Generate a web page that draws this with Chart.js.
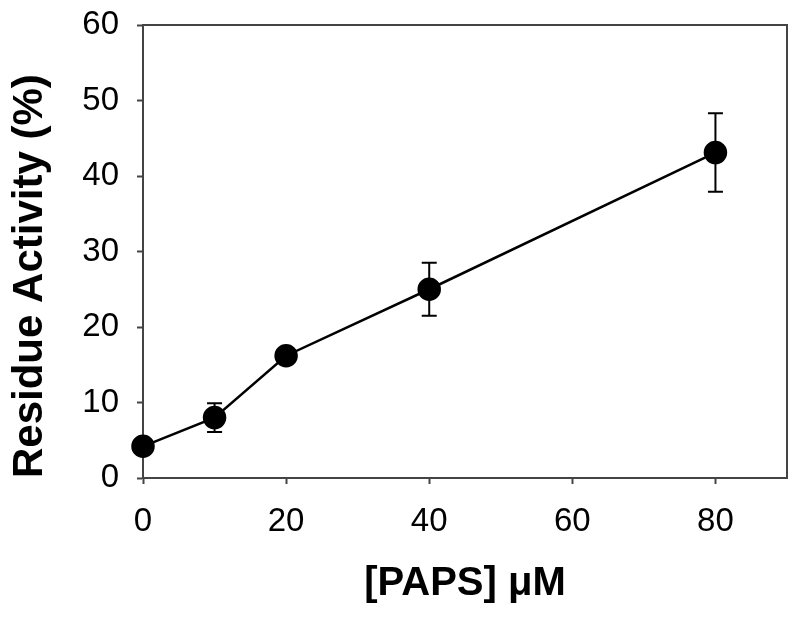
<!DOCTYPE html>
<html>
<head>
<meta charset="utf-8">
<title>Residue Activity vs PAPS</title>
<script src="https://cdn.jsdelivr.net/npm/chart.js@4/dist/chart.umd.min.js"></script>
<style>
    html, body { margin: 0; padding: 0; background: #ffffff; }
    #wrap { width: 800px; height: 617px; }
</style>
</head>
<body>
<div id="wrap"><canvas id="activity-chart" width="800" height="617"></canvas></div>
<script>
// Data
const papsConc = [0, 10, 20, 40, 80];          // [PAPS] in uM
const residueActivity = [4.2, 8.0, 16.2, 25.0, 43.1]; // %
const activityError = [0.5, 1.9, 0.9, 3.5, 5.2];
const xTicks = [0, 20, 40, 60, 80];
const yTicks = [0, 10, 20, 30, 40, 50, 60];

const AXIS_COLOR = '#444444';

/**
 * Draw vertical error bars with caps, using the chart scales
 */
const errorBarPlugin = {
    id: 'errorBars',
    beforeDatasetsDraw(chart) {
        const { ctx, scales: { x, y } } = chart;
        const cap = 7.5;
        ctx.save();
        ctx.strokeStyle = '#000000';
        ctx.lineWidth = 2;
        papsConc.forEach((xv, i) => {
            const px = x.getPixelForValue(xv);
            const top = y.getPixelForValue(residueActivity[i] + activityError[i]);
            const bot = y.getPixelForValue(residueActivity[i] - activityError[i]);
            ctx.beginPath();
            ctx.moveTo(px, top);
            ctx.lineTo(px, bot);
            ctx.moveTo(px - cap, top);
            ctx.lineTo(px + cap, top);
            ctx.moveTo(px - cap, bot);
            ctx.lineTo(px + cap, bot);
            ctx.stroke();
        });
        ctx.restore();
    }
};

/**
 * Close the box: top and right border of the plot area
 */
const framePlugin = {
    id: 'frame',
    afterDraw(chart) {
        const { ctx, chartArea: a } = chart;
        ctx.save();
        ctx.strokeStyle = AXIS_COLOR;
        ctx.lineWidth = 2;
        ctx.beginPath();
        ctx.moveTo(a.left, a.top);
        ctx.lineTo(a.right, a.top);
        ctx.lineTo(a.right, a.bottom);
        ctx.stroke();
        ctx.restore();
    }
};

function createActivityChart() {
    const canvas = document.getElementById('activity-chart');
    if (!canvas) return;

    new Chart(canvas, {
        type: 'line',
        data: {
            datasets: [{
                data: papsConc.map((v, i) => ({ x: v, y: residueActivity[i] })),
                borderColor: '#000000',
                borderWidth: 2.5,
                backgroundColor: '#000000',
                pointRadius: 10.5,
                pointHoverRadius: 10.5,
                pointBackgroundColor: '#000000',
                pointBorderColor: '#000000',
                tension: 0,
                clip: false
            }]
        },
        options: {
            responsive: false,
            animation: false,
            devicePixelRatio: 1,
            layout: {
                padding: { top: 25, right: 11, left: 0, bottom: 0 }
            },
            plugins: {
                legend: { display: false },
                tooltip: { enabled: false }
            },
            scales: {
                x: {
                    type: 'linear',
                    min: 0,
                    max: 90,
                    afterBuildTicks: scale => { scale.ticks = xTicks.map(v => ({ value: v })); },
                    afterFit: scale => {
                        scale.height = 139;
                        scale.paddingLeft = 0;
                        scale.paddingRight = 0;
                    },
                    grid: {
                        drawOnChartArea: false,
                        tickLength: 6,
                        tickColor: AXIS_COLOR,
                        tickWidth: 2
                    },
                    border: { color: AXIS_COLOR, width: 2 },
                    ticks: {
                        color: '#000000',
                        padding: 18,
                        maxRotation: 0,
                        font: { family: 'Liberation Sans, Arial, sans-serif', size: 33 }
                    },
                    title: {
                        display: true,
                        text: '[PAPS] \u03bcM',
                        color: '#000000',
                        padding: { bottom: 9 },
                        font: { family: 'Liberation Sans, Arial, sans-serif', size: 40, weight: 'bold' }
                    }
                },
                y: {
                    type: 'linear',
                    min: 0,
                    max: 60,
                    afterBuildTicks: scale => { scale.ticks = yTicks.map(v => ({ value: v })); },
                    afterFit: scale => {
                        scale.width = 143;
                        scale.paddingTop = 0;
                        scale.paddingBottom = 0;
                    },
                    grid: {
                        drawOnChartArea: false,
                        tickLength: 6,
                        tickColor: AXIS_COLOR,
                        tickWidth: 2
                    },
                    border: { color: AXIS_COLOR, width: 2 },
                    ticks: {
                        color: '#000000',
                        padding: 18,
                        font: { family: 'Liberation Sans, Arial, sans-serif', size: 33 }
                    },
                    title: {
                        display: true,
                        text: 'Residue Activity (%)',
                        align: 'start',
                        color: '#000000',
                        padding: { top: 5 },
                        font: { family: 'Liberation Sans, Arial, sans-serif', size: 42, weight: 'bold' }
                    }
                }
            }
        },
        plugins: [errorBarPlugin, framePlugin]
    });
}

document.addEventListener('DOMContentLoaded', createActivityChart);
</script>
</body>
</html>
